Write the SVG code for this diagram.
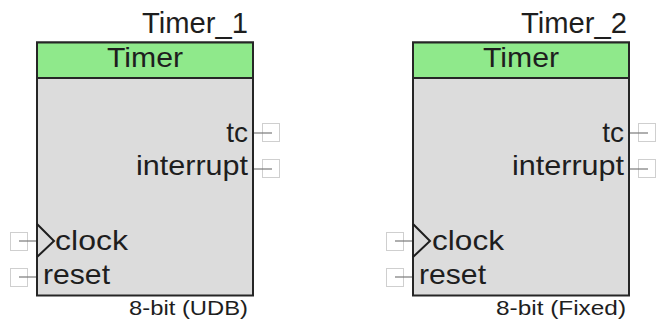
<svg xmlns="http://www.w3.org/2000/svg" width="663" height="327" viewBox="0 0 663 327">
<style>
  text { font-family: "Liberation Sans", Arial, sans-serif; fill: #1e1e1e; }
  .title { font-size: 29px; }
  .hdr { font-size: 28px; }
  .pin { font-size: 28px; }
  .foot { font-size: 21px; }
  .body { fill: #dcdcdc; stroke: #262626; stroke-width: 2; }
  .head { fill: #8fe98b; stroke: #262626; stroke-width: 2; }
  .pbox { fill: #ffffff; stroke: #cfcfcf; stroke-width: 1; }
  .pline { stroke: #7a7a7a; stroke-width: 1.2; fill: none; }
  .clk { stroke: #1e1e1e; stroke-width: 2; fill: none; }
</style>
<defs>
  <g id="ports">
    <rect class="pbox" x="262.5" y="123.5" width="17" height="18"/>
    <line class="pline" x1="253" y1="133" x2="272" y2="133"/>
    <rect class="pbox" x="262.5" y="159.5" width="17" height="18"/>
    <line class="pline" x1="253" y1="169" x2="272" y2="169"/>
    <rect class="pbox" x="10.5" y="232.5" width="17" height="18"/>
    <line class="pline" x1="19" y1="241" x2="37" y2="241"/>
    <rect class="pbox" x="10.5" y="268.5" width="17" height="18"/>
    <line class="pline" x1="19" y1="277" x2="37" y2="277"/>
  </g>
  <g id="shape">
    <rect class="body" x="37" y="42.5" width="216" height="253"/>
    <rect class="head" x="37" y="42.5" width="216" height="35.5"/>
    <polyline class="clk" points="37,224 54,241 37,257"/>
  </g>
</defs>
<g id="connectors"></g>
<g id="Timer_1">
  <use href="#ports"/>
  <use href="#shape"/>
  <text class="title" x="248" y="33" text-anchor="end" textLength="106" lengthAdjust="spacingAndGlyphs">Timer_1</text>
  <text class="hdr" x="145" y="67" text-anchor="middle" textLength="76" lengthAdjust="spacingAndGlyphs">Timer</text>
  <text class="pin" x="248" y="142" text-anchor="end">tc</text>
  <text class="pin" x="248" y="175" text-anchor="end" textLength="112" lengthAdjust="spacingAndGlyphs">interrupt</text>
  <text class="pin" x="55" y="250" textLength="73" lengthAdjust="spacingAndGlyphs">clock</text>
  <text class="pin" x="43" y="284" textLength="67" lengthAdjust="spacingAndGlyphs">reset</text>
  <text class="foot" x="248" y="315" text-anchor="end" textLength="119" lengthAdjust="spacingAndGlyphs">8-bit (UDB)</text>
</g>
<g id="Timer_2" transform="translate(376,0)">
  <use href="#ports"/>
  <use href="#shape"/>
  <text class="title" x="251" y="33" text-anchor="end" textLength="106" lengthAdjust="spacingAndGlyphs">Timer_2</text>
  <text class="hdr" x="145" y="67" text-anchor="middle" textLength="76" lengthAdjust="spacingAndGlyphs">Timer</text>
  <text class="pin" x="248" y="142" text-anchor="end">tc</text>
  <text class="pin" x="248" y="175" text-anchor="end" textLength="112" lengthAdjust="spacingAndGlyphs">interrupt</text>
  <text class="pin" x="56" y="250" textLength="72" lengthAdjust="spacingAndGlyphs">clock</text>
  <text class="pin" x="43" y="284" textLength="67" lengthAdjust="spacingAndGlyphs">reset</text>
  <text class="foot" x="250" y="315" text-anchor="end" textLength="130" lengthAdjust="spacingAndGlyphs">8-bit (Fixed)</text>
</g>
</svg>
